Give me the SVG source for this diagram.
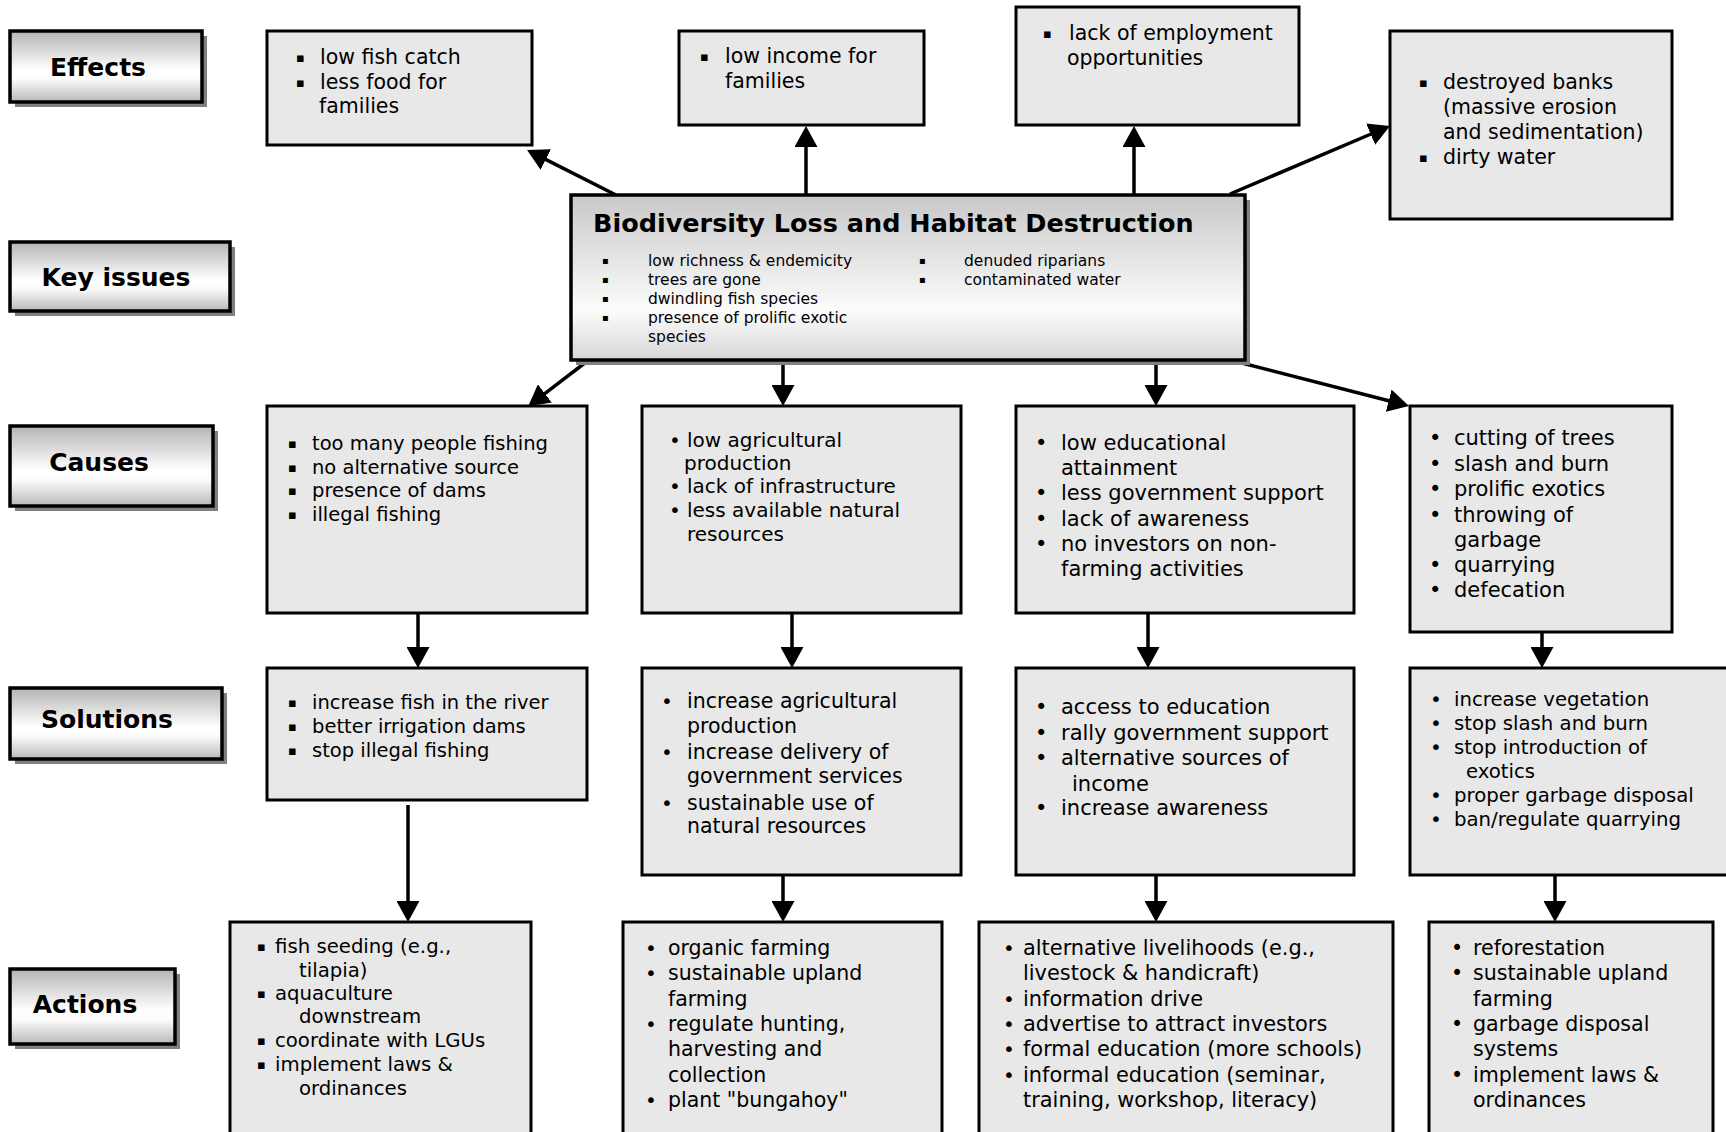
<svg xmlns="http://www.w3.org/2000/svg" width="1726" height="1132" viewBox="0 0 1726 1132">
<style>
.box{fill:#e8e8e8;stroke:#000;stroke-width:3}
.lab{fill:url(#gLab);stroke:#000;stroke-width:3.5}
.ctr{fill:url(#gCtr);stroke:#000;stroke-width:3.5}
.sh{fill:#808080}
.t{font-family:"DejaVu Sans",Verdana,sans-serif;font-size:20px;fill:#000}
.h{font-family:"DejaVu Sans",Verdana,sans-serif;font-weight:bold;font-size:25px;fill:#000}
.sm{font-size:15.5px}
.sq{font-family:"DejaVu Sans",Verdana,sans-serif;font-size:13px;fill:#000}
.sqs{font-family:"DejaVu Sans",Verdana,sans-serif;font-size:10px;fill:#000}
.c{stroke:#000;stroke-width:3.5;fill:none;marker-end:url(#ah)}
</style>
<defs>
<linearGradient id="gLab" x1="0" y1="0" x2="0" y2="1">
<stop offset="0" stop-color="#b4b4b4"/>
<stop offset="0.55" stop-color="#ffffff"/>
<stop offset="0.68" stop-color="#fbfbfb"/>
<stop offset="1" stop-color="#b8b8b8"/>
</linearGradient>
<linearGradient id="gCtr" x1="0" y1="0" x2="0" y2="1">
<stop offset="0" stop-color="#c8c8c8"/>
<stop offset="0.7" stop-color="#fcfcfc"/>
<stop offset="1" stop-color="#d6d6d6"/>
</linearGradient>
<marker id="ah" viewBox="0 0 21 23" refX="3" refY="11.5" markerWidth="21" markerHeight="23" markerUnits="userSpaceOnUse" orient="auto">
<path d="M0,0 L21,11.5 L0,23 z" fill="#000"/>
</marker>
</defs>
<rect width="1726" height="1132" fill="#fff"/>

<g id="connectors">
<line class="c" x1="616" y1="195" x2="543.1" y2="158.1"/>
<line class="c" x1="806" y1="196" x2="806" y2="144"/>
<line class="c" x1="1134" y1="196" x2="1134" y2="144"/>
<line class="c" x1="1230" y1="194" x2="1373.4" y2="133"/>
<line class="c" x1="590" y1="359" x2="542.5" y2="395.3"/>
<line class="c" x1="783" y1="359" x2="783" y2="388"/>
<line class="c" x1="1156" y1="359" x2="1156" y2="388"/>
<line class="c" x1="1230" y1="360" x2="1391.6" y2="401.5"/>
<line class="c" x1="418" y1="613" x2="418" y2="650"/>
<line class="c" x1="792" y1="613" x2="792" y2="650"/>
<line class="c" x1="1148" y1="613" x2="1148" y2="650"/>
<line class="c" x1="1542" y1="632" x2="1542" y2="650"/>
<line class="c" x1="408" y1="805" x2="408" y2="904"/>
<line class="c" x1="783" y1="875" x2="783" y2="904"/>
<line class="c" x1="1156" y1="875" x2="1156" y2="904"/>
<line class="c" x1="1555" y1="875" x2="1555" y2="904"/>
</g>

<g id="label-effects">
<rect class="sh" x="15" y="36" width="192" height="71"/>
<rect class="lab" x="10" y="31" width="192" height="71"/>
<text class="h" x="98" y="76" text-anchor="middle">Effects</text>
</g>
<g id="label-key-issues">
<rect class="sh" x="15" y="247" width="220" height="69"/>
<rect class="lab" x="10" y="242" width="220" height="69"/>
<text class="h" x="116" y="286" text-anchor="middle">Key issues</text>
</g>
<g id="label-causes">
<rect class="sh" x="15" y="431" width="203" height="80"/>
<rect class="lab" x="10" y="426" width="203" height="80"/>
<text class="h" x="99" y="471" text-anchor="middle">Causes</text>
</g>
<g id="label-solutions">
<rect class="sh" x="15" y="693" width="212" height="71"/>
<rect class="lab" x="10" y="688" width="212" height="71"/>
<text class="h" x="107" y="728" text-anchor="middle">Solutions</text>
</g>
<g id="label-actions">
<rect class="sh" x="15" y="974" width="165" height="75"/>
<rect class="lab" x="10" y="969" width="165" height="75"/>
<text class="h" x="85" y="1013" text-anchor="middle">Actions</text>
</g>

<g id="key-issue">
<rect class="sh" x="576" y="200" width="674" height="165"/>
<rect class="ctr" x="571" y="195" width="674" height="165"/>
<text class="h" x="593" y="232" style="font-size:25.5px">Biodiversity Loss and Habitat Destruction</text>
<text class="sqs"><tspan x="602" y="264">▪</tspan><tspan x="602" y="283">▪</tspan><tspan x="602" y="302">▪</tspan><tspan x="602" y="321">▪</tspan><tspan x="919" y="264">▪</tspan><tspan x="919" y="283">▪</tspan></text>
<text class="t sm"><tspan x="648" y="266">low richness &amp; endemicity</tspan><tspan x="648" y="285">trees are gone</tspan><tspan x="648" y="304">dwindling fish species</tspan><tspan x="648" y="323">presence of prolific exotic</tspan><tspan x="648" y="342">species</tspan><tspan x="964" y="266">denuded riparians</tspan><tspan x="964" y="285">contaminated water</tspan></text>
</g>

<g id="effect-1">
<rect class="box" x="267" y="31" width="265" height="114"/>
<text class="sq"><tspan x="296" y="61.5">▪</tspan><tspan x="296" y="86.5">▪</tspan></text>
<text class="t" style="font-size:20.5px"><tspan x="320" y="64">low fish catch</tspan><tspan x="320" y="89">less food for</tspan><tspan x="319" y="113">families</tspan></text>
</g>
<g id="effect-2">
<rect class="box" x="679" y="31" width="245" height="94"/>
<text class="sq"><tspan x="700" y="60.5">▪</tspan></text>
<text class="t" style="font-size:20.5px"><tspan x="725" y="63">low income for</tspan><tspan x="725" y="88">families</tspan></text>
</g>
<g id="effect-3">
<rect class="box" x="1016" y="7" width="283" height="118"/>
<text class="sq"><tspan x="1043" y="37.5">▪</tspan></text>
<text class="t" style="font-size:20.5px"><tspan x="1069" y="40">lack of employment</tspan><tspan x="1067" y="65">opportunities</tspan></text>
</g>
<g id="effect-4">
<rect class="box" x="1390" y="31" width="282" height="188"/>
<text class="sq"><tspan x="1419" y="86.5">▪</tspan><tspan x="1419" y="161.5">▪</tspan></text>
<text class="t" style="font-size:20.5px"><tspan x="1443" y="89">destroyed banks</tspan><tspan x="1443" y="114">(massive erosion</tspan><tspan x="1443" y="139">and sedimentation)</tspan><tspan x="1443" y="164">dirty water</tspan></text>
</g>

<g id="cause-1">
<rect class="box" x="267" y="406" width="320" height="207"/>
<text class="sq"><tspan x="288" y="447.5">▪</tspan><tspan x="288" y="471.5">▪</tspan><tspan x="288" y="494.5">▪</tspan><tspan x="288" y="518.5">▪</tspan></text>
<text class="t" style="font-size:19.5px"><tspan x="312" y="450">too many people fishing</tspan><tspan x="312" y="474">no alternative source</tspan><tspan x="312" y="497">presence of dams</tspan><tspan x="312" y="521">illegal fishing</tspan></text>
</g>
<g id="cause-2">
<rect class="box" x="642" y="406" width="319" height="207"/>
<text class="t"><tspan x="669" y="447">•</tspan><tspan x="669" y="493">•</tspan><tspan x="669" y="517">•</tspan></text>
<text class="t"><tspan x="687" y="447">low agricultural</tspan><tspan x="684" y="470">production</tspan><tspan x="687" y="493">lack of infrastructure</tspan><tspan x="687" y="517">less available natural</tspan><tspan x="687" y="541">resources</tspan></text>
</g>
<g id="cause-3">
<rect class="box" x="1016" y="406" width="338" height="207"/>
<text class="t" style="font-size:21px"><tspan x="1035" y="449.5">•</tspan><tspan x="1035" y="499.5">•</tspan><tspan x="1035" y="525.5">•</tspan><tspan x="1035" y="550.5">•</tspan></text>
<text class="t" style="font-size:21px"><tspan x="1061" y="449.5">low educational</tspan><tspan x="1061" y="474.5">attainment</tspan><tspan x="1061" y="499.5">less government support</tspan><tspan x="1061" y="525.5">lack of awareness</tspan><tspan x="1061" y="550.5">no investors on non-</tspan><tspan x="1061" y="575.5">farming activities</tspan></text>
</g>
<g id="cause-4">
<rect class="box" x="1410" y="406" width="262" height="226"/>
<text class="t" style="font-size:21px"><tspan x="1429" y="445">•</tspan><tspan x="1429" y="471">•</tspan><tspan x="1429" y="496">•</tspan><tspan x="1429" y="522">•</tspan><tspan x="1429" y="572">•</tspan><tspan x="1429" y="597">•</tspan></text>
<text class="t" style="font-size:21px"><tspan x="1454" y="445">cutting of trees</tspan><tspan x="1454" y="471">slash and burn</tspan><tspan x="1454" y="496">prolific exotics</tspan><tspan x="1454" y="522">throwing of</tspan><tspan x="1454" y="547">garbage</tspan><tspan x="1454" y="572">quarrying</tspan><tspan x="1454" y="597">defecation</tspan></text>
</g>

<g id="solution-1">
<rect class="box" x="267" y="668" width="320" height="132"/>
<text class="sq"><tspan x="288" y="706.5">▪</tspan><tspan x="288" y="730.5">▪</tspan><tspan x="288" y="754.5">▪</tspan></text>
<text class="t" style="font-size:19.5px"><tspan x="312" y="709">increase fish in the river</tspan><tspan x="312" y="733">better irrigation dams</tspan><tspan x="312" y="757">stop illegal fishing</tspan></text>
</g>
<g id="solution-2">
<rect class="box" x="642" y="668" width="319" height="207"/>
<text class="t"><tspan x="661" y="708">•</tspan><tspan x="661" y="759">•</tspan><tspan x="661" y="810">•</tspan></text>
<text class="t" style="font-size:20.5px"><tspan x="687" y="708">increase agricultural</tspan><tspan x="687" y="733">production</tspan><tspan x="687" y="759">increase delivery of</tspan><tspan x="687" y="783">government services</tspan><tspan x="687" y="810">sustainable use of</tspan><tspan x="687" y="833">natural resources</tspan></text>
</g>
<g id="solution-3">
<rect class="box" x="1016" y="668" width="338" height="207"/>
<text class="t" style="font-size:21px"><tspan x="1035" y="714">•</tspan><tspan x="1035" y="740">•</tspan><tspan x="1035" y="765">•</tspan><tspan x="1035" y="815">•</tspan></text>
<text class="t" style="font-size:21px"><tspan x="1061" y="714">access to education</tspan><tspan x="1061" y="740">rally government support</tspan><tspan x="1061" y="765">alternative sources of</tspan><tspan x="1072" y="791">income</tspan><tspan x="1061" y="815">increase awareness</tspan></text>
</g>
<g id="solution-4">
<rect class="box" x="1410" y="668" width="330" height="207"/>
<text class="t" style="font-size:20px"><tspan x="1430" y="706">•</tspan><tspan x="1430" y="730">•</tspan><tspan x="1430" y="754">•</tspan><tspan x="1430" y="802">•</tspan><tspan x="1430" y="826">•</tspan></text>
<text class="t" style="font-size:19.7px"><tspan x="1454" y="706">increase vegetation</tspan><tspan x="1454" y="730">stop slash and burn</tspan><tspan x="1454" y="754">stop introduction of</tspan><tspan x="1466" y="778">exotics</tspan><tspan x="1454" y="802">proper garbage disposal</tspan><tspan x="1454" y="826">ban/regulate quarrying</tspan></text>
</g>

<g id="action-1">
<rect class="box" x="230" y="922" width="301" height="220"/>
<text class="sq"><tspan x="257" y="950.5">▪</tspan><tspan x="257" y="997.5">▪</tspan><tspan x="257" y="1044.5">▪</tspan><tspan x="257" y="1068.5">▪</tspan></text>
<text class="t" style="font-size:19.7px"><tspan x="275" y="953">fish seeding (e.g.,</tspan><tspan x="299" y="977">tilapia)</tspan><tspan x="275" y="1000">aquaculture</tspan><tspan x="299" y="1023">downstream</tspan><tspan x="275" y="1047">coordinate with LGUs</tspan><tspan x="275" y="1071">implement laws &amp;</tspan><tspan x="299" y="1095">ordinances</tspan></text>
</g>
<g id="action-2">
<rect class="box" x="623" y="922" width="319" height="220"/>
<text class="t"><tspan x="645" y="955">•</tspan><tspan x="645" y="980">•</tspan><tspan x="645" y="1031">•</tspan><tspan x="645" y="1107">•</tspan></text>
<text class="t" style="font-size:20.5px"><tspan x="668" y="955">organic farming</tspan><tspan x="668" y="980">sustainable upland</tspan><tspan x="668" y="1006">farming</tspan><tspan x="668" y="1031">regulate hunting,</tspan><tspan x="668" y="1056">harvesting and</tspan><tspan x="668" y="1082">collection</tspan><tspan x="668" y="1107">plant "bungahoy"</tspan></text>
</g>
<g id="action-3">
<rect class="box" x="979" y="922" width="414" height="220"/>
<text class="t"><tspan x="1003" y="955">•</tspan><tspan x="1003" y="1006">•</tspan><tspan x="1003" y="1031">•</tspan><tspan x="1003" y="1056">•</tspan><tspan x="1003" y="1082">•</tspan></text>
<text class="t" style="font-size:20.9px"><tspan x="1023" y="955">alternative livelihoods (e.g.,</tspan><tspan x="1023" y="980">livestock &amp; handicraft)</tspan><tspan x="1023" y="1006">information drive</tspan><tspan x="1023" y="1031">advertise to attract investors</tspan><tspan x="1023" y="1056">formal education (more schools)</tspan><tspan x="1023" y="1082">informal education (seminar,</tspan><tspan x="1023" y="1107">training, workshop, literacy)</tspan></text>
</g>
<g id="action-4">
<rect class="box" x="1429" y="922" width="284" height="220"/>
<text class="t" style="font-size:20.6px"><tspan x="1451" y="955">•</tspan><tspan x="1451" y="980">•</tspan><tspan x="1451" y="1031">•</tspan><tspan x="1451" y="1082">•</tspan></text>
<text class="t" style="font-size:20.6px"><tspan x="1473" y="955">reforestation</tspan><tspan x="1473" y="980">sustainable upland</tspan><tspan x="1473" y="1006">farming</tspan><tspan x="1473" y="1031">garbage disposal</tspan><tspan x="1473" y="1056">systems</tspan><tspan x="1473" y="1082">implement laws &amp;</tspan><tspan x="1473" y="1107">ordinances</tspan></text>
</g>
</svg>
